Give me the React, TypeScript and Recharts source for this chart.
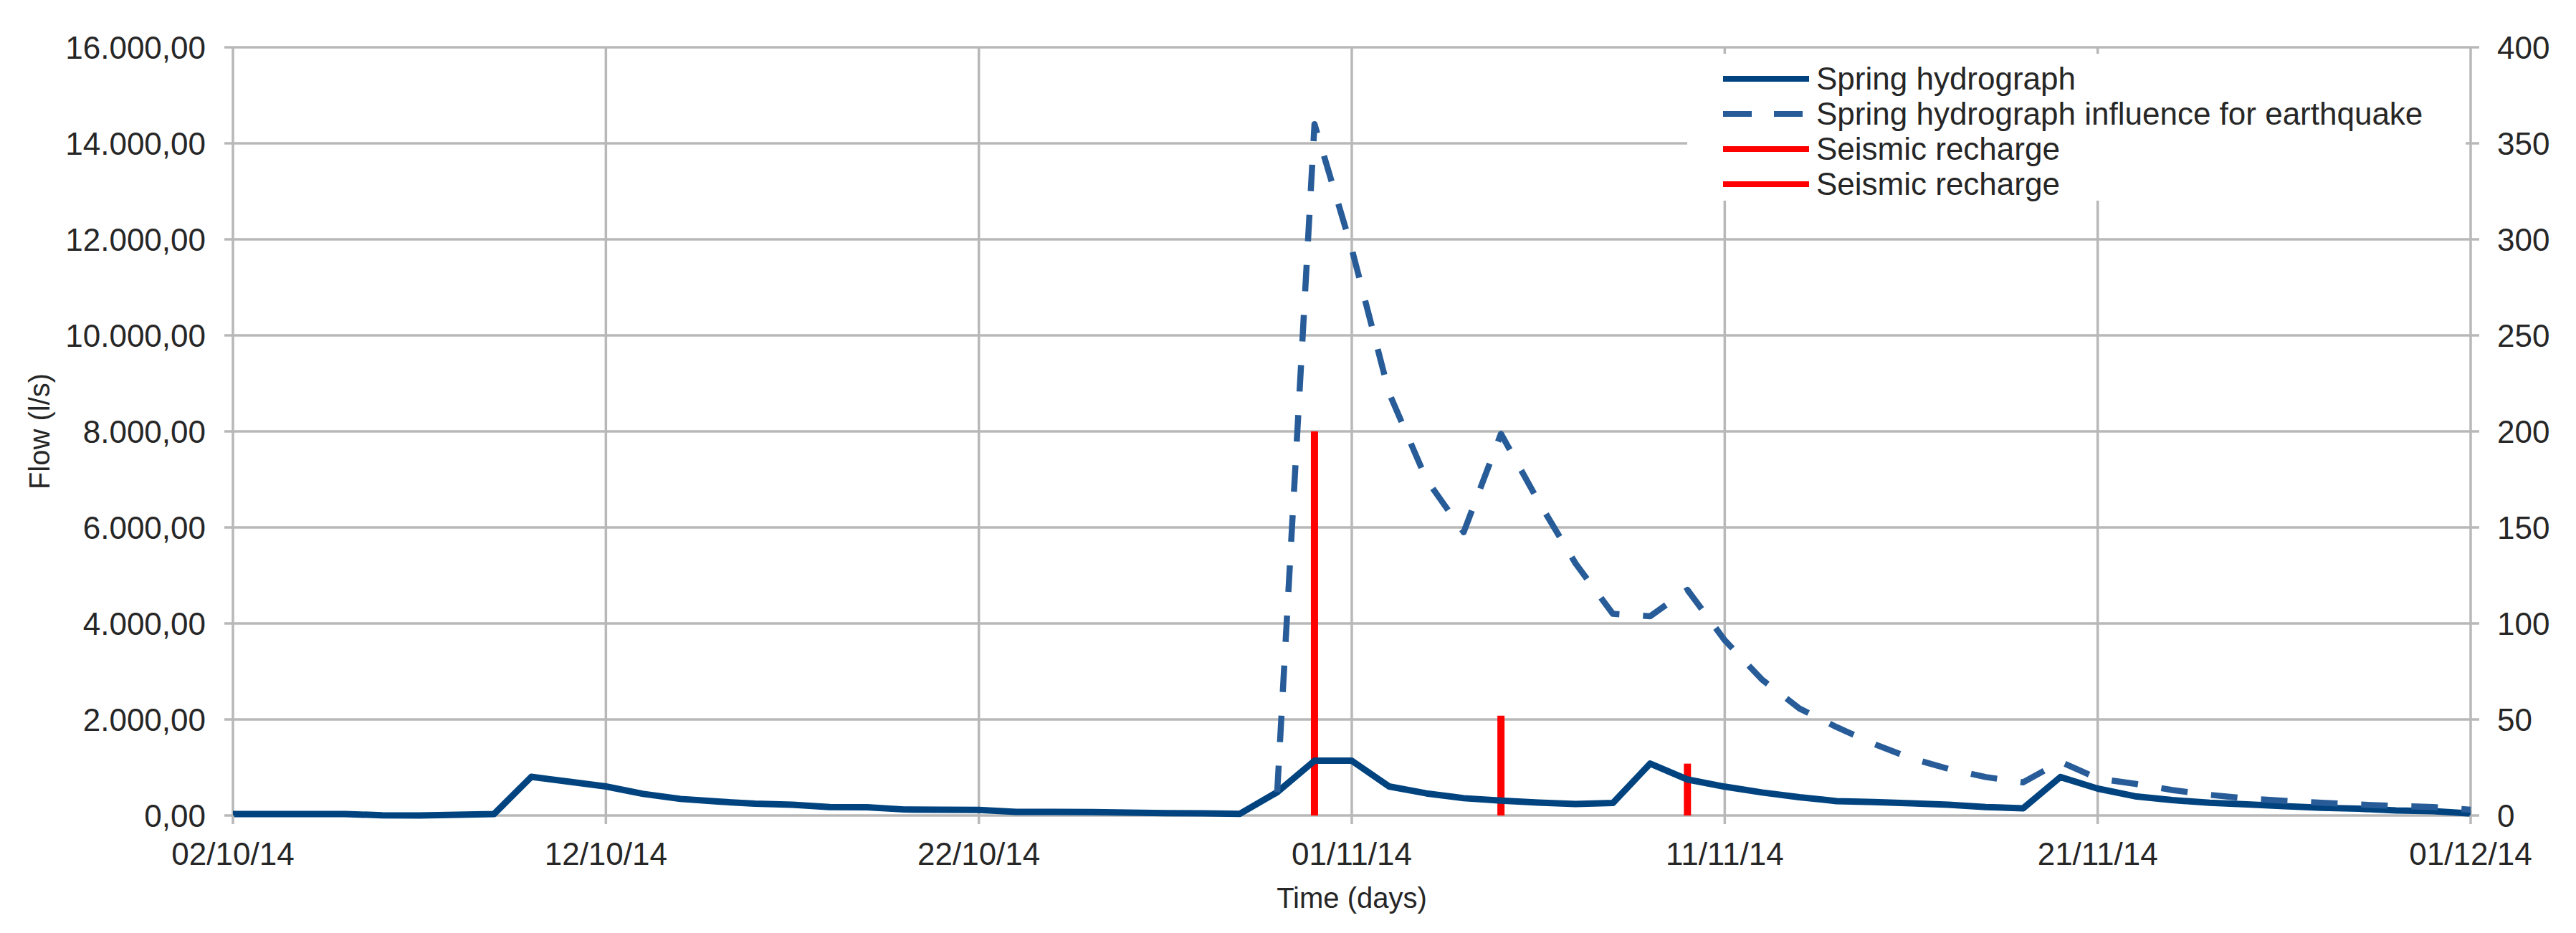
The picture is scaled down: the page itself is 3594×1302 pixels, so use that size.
import { ComposedChart, Line, Bar, XAxis, YAxis, CartesianGrid, Legend } from 'recharts'

// daily values, index 0 = 02/10/14, index 60 = 01/12/14
const SPRING_FLOW = [
  30, 30, 30, 30, 5, 0, 15, 30, 805, 705,
  605, 450, 345, 290, 245, 225, 175, 170, 125, 120,
  115, 75, 75, 70, 60, 50, 45, 35, 485, 1140,
  1140, 605, 460, 360, 310, 270, 240, 260, 1080, 750,
  600, 480, 380, 300, 280, 255, 225, 175, 150, 800,
  560, 400, 320, 265, 230, 195, 160, 140, 105, 90,
  40,
]

const QUAKE_FLOW: (number | null)[] = [
  null, null, null, null, null, null, null, null, null, null,
  null, null, null, null, null, null, null, null, null, null,
  null, null, null, null, null, null, null, null, 485, 14400,
  11800, 8800, 7000, 5900, 7950, 6550, 5250, 4200, 4150, 4700,
  3650, 2830, 2230, 1840, 1490, 1190, 970, 800, 690, 1120,
  770, 660, 530, 430, 355, 305, 265, 228, 198, 175,
  120,
]

// seismic recharge (right axis)
const MAIN_SHOCK_DAYS = [29]
const MAIN_SHOCK_VALUES = [200]
const AFTERSHOCK_DAYS = [34, 39]
const AFTERSHOCK_VALUES = [52, 27]

const TICK_DAYS = [0, 10, 20, 30, 40, 50, 60]
const TICK_LABELS = ['02/10/14', '12/10/14', '22/10/14', '01/11/14', '11/11/14', '21/11/14', '01/12/14']
const FLOW_TICKS = [0, 2000, 4000, 6000, 8000, 10000, 12000, 14000, 16000]
const RECHARGE_TICKS = [0, 50, 100, 150, 200, 250, 300, 350, 400]

const FONT = '"Liberation Sans", Arial, sans-serif'
const TEXT = '#262626'
const GRID = '#b8b8b8'
const SOLID_BLUE = '#00437f'
const DASH_BLUE = '#275c98'
const RED = '#ff0000'

const pick = (days: number[], values: number[], day: number) => {
  const i = days.indexOf(day)
  return i < 0 ? null : values[i]
}

const rows = SPRING_FLOW.map((spring, day) => ({
  day,
  spring,
  quake: QUAKE_FLOW[day],
  shock1: pick(MAIN_SHOCK_DAYS, MAIN_SHOCK_VALUES, day),
  shock2: pick(AFTERSHOCK_DAYS, AFTERSHOCK_VALUES, day),
}))

const formatFlow = (v: number) => {
  const s = String(Math.round(v)).replace(/\B(?=(\d{3})+(?!\d))/g, '.')
  return s + ',00'
}

const formatDay = (v: number) => {
  const i = TICK_DAYS.indexOf(v)
  return i < 0 ? '' : TICK_LABELS[i]
}

const LEGEND_ORDER = ['spring', 'quake', 'shock1', 'shock2']
const LEGEND_LOOK: Record<string, { color: string; dash?: string; len: number }> = {
  spring: { color: SOLID_BLUE, len: 120 },
  quake: { color: DASH_BLUE, dash: '40 31', len: 111 },
  shock1: { color: RED, len: 120 },
  shock2: { color: RED, len: 120 },
}

function LegendBox(props: any) {
  const items = [...(props.payload ?? [])].sort(
    (a: any, b: any) => LEGEND_ORDER.indexOf(a.dataKey) - LEGEND_ORDER.indexOf(b.dataKey)
  )
  return (
    <div style={{ background: '#fff', width: '100%', height: '100%', boxSizing: 'border-box', paddingTop: 10 }}>
      {items.map((it: any) => {
        const look = LEGEND_LOOK[it.dataKey]
        return (
          <div key={it.dataKey} style={{ display: 'flex', alignItems: 'center', height: 49 }}>
            <svg width={120} height={12} style={{ marginLeft: 50, flex: 'none' }}>
              <line x1={0} y1={6} x2={look.len} y2={6} stroke={look.color} strokeWidth={8} strokeDasharray={look.dash} />
            </svg>
            <span style={{ marginLeft: 10, fontSize: 44, fontFamily: FONT, color: TEXT, lineHeight: '49px', whiteSpace: 'nowrap' }}>
              {it.value}
            </span>
          </div>
        )
      })}
    </div>
  )
}

const FlowTitle = (props: any) => {
  const vb = props.viewBox
  const x = vb.x + 55
  const y = vb.y + vb.height / 2
  return (
    <text x={x} y={y} transform={`rotate(-90 ${x} ${y})`} textAnchor="middle" dominantBaseline="central" fontSize={40} fontFamily={FONT} fill={TEXT}>
      Flow (l/s)
    </text>
  )
}

const TimeTitle = (props: any) => {
  const vb = props.viewBox
  return (
    <text x={vb.x + vb.width / 2} y={vb.y + 115} textAnchor="middle" dominantBaseline="central" fontSize={40} fontFamily={FONT} fill={TEXT}>
      Time (days)
    </text>
  )
}

export default function App() {
  const tickStyle = { fontSize: 44, fill: TEXT, fontFamily: FONT }
  const tickLine = { stroke: GRID, strokeWidth: 3.5 }
  return (
    <div style={{ position: 'absolute', left: 0, top: 0, background: '#fff' }}>
      <ComposedChart width={3594} height={1302} data={rows} margin={{ top: 66, right: 0, bottom: 0, left: 0 }}>
        <CartesianGrid stroke={GRID} strokeWidth={3.5} yAxisId="left" />
        <XAxis
          dataKey="day"
          type="number"
          domain={[0, 60]}
          ticks={TICK_DAYS}
          interval={0}
          tickFormatter={formatDay}
          height={164}
          tickSize={12}
          tickMargin={26}
          axisLine={false}
          tickLine={tickLine}
          tick={tickStyle}
          label={TimeTitle}
        />
        <YAxis
          yAxisId="left"
          orientation="left"
          width={325}
          domain={[0, 16000]}
          ticks={FLOW_TICKS}
          interval={0}
          tickFormatter={formatFlow}
          tickSize={12}
          tickMargin={26}
          axisLine={false}
          tickLine={tickLine}
          tick={tickStyle}
          label={FlowTitle}
        />
        <YAxis
          yAxisId="right"
          orientation="right"
          width={147}
          domain={[0, 400]}
          ticks={RECHARGE_TICKS}
          interval={0}
          tickSize={12}
          tickMargin={25}
          axisLine={false}
          tickLine={tickLine}
          tick={tickStyle}
        />
        <Legend
          layout="vertical"
          align="center"
          verticalAlign="middle"
          content={LegendBox}
          wrapperStyle={{ left: 2354, top: 75, width: 1086, height: 205 }}
        />
        <Line
          yAxisId="left"
          type="linear"
          dataKey="spring"
          name="Spring hydrograph"
          stroke={SOLID_BLUE}
          strokeWidth={9}
          strokeLinejoin="round"
          dot={false}
          activeDot={false}
          isAnimationActive={false}
        />
        <Line
          yAxisId="left"
          type="linear"
          dataKey="quake"
          name="Spring hydrograph influence for earthquake"
          stroke={DASH_BLUE}
          strokeWidth={8.5}
          strokeDasharray="37 33"
          strokeLinejoin="round"
          dot={false}
          activeDot={false}
          connectNulls={false}
          isAnimationActive={false}
        />
        <Bar yAxisId="right" dataKey="shock1" name="Seismic recharge" stackId="r" barSize={10} fill={RED} isAnimationActive={false} />
        <Bar yAxisId="right" dataKey="shock2" name="Seismic recharge" stackId="r" barSize={10} fill={RED} isAnimationActive={false} />
      </ComposedChart>
    </div>
  )
}
